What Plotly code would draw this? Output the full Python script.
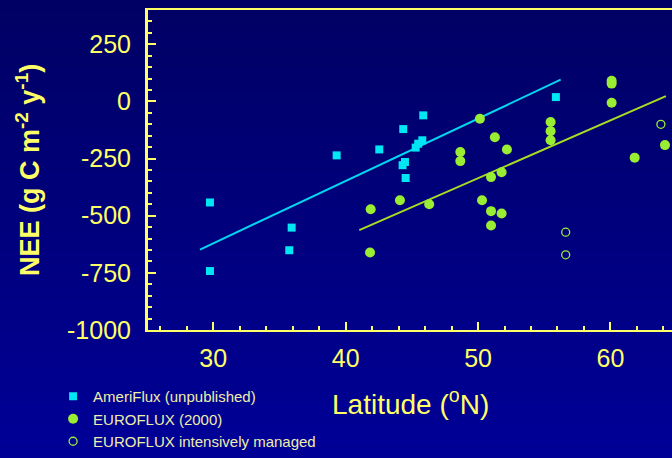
import plotly.graph_objects as go

# ---- data ----
ameri_lat = [29.75, 29.75, 35.92, 35.74, 39.32, 42.54, 44.35, 45.86, 45.79, 45.48, 45.29, 44.48, 44.30, 44.53, 55.88]
ameri_nee = [-442, -742, -552, -651, -236, -210, -121, -61, -170, -185, -202, -265, -279, -335, 19]

euro_lat = [50.14, 51.27, 52.18, 48.66, 48.66, 55.48, 55.48, 55.48, 60.09, 60.09, 60.09, 61.83, 64.12,
            50.98, 51.78, 41.89, 44.10, 46.31, 50.30, 50.98, 51.78, 50.98, 41.84]
euro_nee = [-76, -157, -210, -221, -261, -90, -130, -170, 90, 78, -6, -246, -191,
            -331, -310, -472, -432, -450, -432, -480, -490, -543, -661]

managed_lat = [56.62, 56.62, 63.81]
managed_nee = [-572, -671, -100]

ameri_fit_lat = [29.0, 56.24]
ameri_fit_nee = [-648, 95]
euro_fit_lat = [41.03, 64.19]
euro_fit_nee = [-563, 23]

x_ticks = [30, 40, 50, 60]
y_ticks = [250, 0, -250, -500, -750, -1000]

# ---- style ----
YEL = "#ffff66"
CYAN = "#00e6f2"
GREEN = "#99ee33"
FONT = "Liberation Sans, Arial, sans-serif"

W, H = 672, 458
ML, MR, MT, MB = 148, 0, 10, 128
PW, PH = W - ML - MR, H - MT - MB

fig = go.Figure()

fig.add_trace(go.Scatter(x=ameri_fit_lat, y=ameri_fit_nee, mode="lines",
                         line=dict(color="#00d8f0", width=2), showlegend=False, hoverinfo="skip"))
fig.add_trace(go.Scatter(x=euro_fit_lat, y=euro_fit_nee, mode="lines",
                         line=dict(color="#aadd22", width=2), showlegend=False, hoverinfo="skip"))

fig.add_trace(go.Scatter(x=ameri_lat, y=ameri_nee, mode="markers", name="AmeriFlux (unpublished)",
                         marker=dict(symbol="square", size=8, color=CYAN)))
fig.add_trace(go.Scatter(x=euro_lat, y=euro_nee, mode="markers", name="EUROFLUX (2000)",
                         marker=dict(symbol="circle", size=10, color=GREEN)))
fig.add_trace(go.Scatter(x=managed_lat, y=managed_nee, mode="markers", name="EUROFLUX intensively managed",
                         marker=dict(symbol="circle-open", size=8, color=GREEN, line=dict(width=1.3, color=GREEN))))

# gradient background bands
shapes = []
n = 40
x0p = -ML / PW
x1p = 1 + MR / PW
for i in range(n):
    f0 = i / n
    f1 = (i + 1) / n
    t = (f0 + f1) / 2
    b = int(100 + (152 - 100) * t)
    ya = 1 + MT / PH - f0 * H / PH
    yb = 1 + MT / PH - f1 * H / PH
    shapes.append(dict(type="rect", xref="paper", yref="paper", x0=x0p, x1=x1p, y0=yb, y1=ya,
                       fillcolor=f"rgb(0,0,{b})", line=dict(width=0), layer="below"))

fig.update_layout(
    width=W, height=H,
    margin=dict(l=ML, r=MR, t=MT, b=MB, autoexpand=False),
    paper_bgcolor="#00007a",
    plot_bgcolor="rgba(0,0,0,0)",
    shapes=shapes,
    font=dict(family=FONT, color=YEL),
    showlegend=True,
    legend=dict(xref="container", yref="container", x=0.079, y=1 - 380 / H,
                xanchor="left", yanchor="top", bgcolor="rgba(0,0,0,0)",
                font=dict(family=FONT, size=15, color="#eeeeaa"),
                tracegroupgap=0, itemsizing="trace"),
    xaxis=dict(range=[25.07, 64.65], showgrid=False, zeroline=False, automargin=False,
               showline=True, linecolor=YEL, linewidth=2, mirror=True,
               tickmode="array", tickvals=x_ticks, ticktext=[str(v) for v in x_ticks],
               ticks="inside", ticklen=8, tickwidth=2, tickcolor=YEL,
               minor=dict(dtick=2, tick0=0, ticks="inside", ticklen=4, tickwidth=2, tickcolor=YEL),
               tickfont=dict(family=FONT, size=25, color=YEL), ticklabelstandoff=5),
    yaxis=dict(range=[-1000, 400], showgrid=False, zeroline=False, automargin=False,
               showline=True, linecolor=YEL, linewidth=3, mirror=False,
               tickmode="array", tickvals=y_ticks, ticktext=[str(v) for v in y_ticks],
               ticks="inside", ticklen=8, tickwidth=2, tickcolor=YEL,
               minor=dict(dtick=50, tick0=0, ticks="inside", ticklen=4, tickwidth=2, tickcolor=YEL),
               tickfont=dict(family=FONT, size=25, color=YEL), ticklabelstandoff=9),
)

fig.add_annotation(xref="paper", yref="paper", x=0.5, y=-(402 - MT - PH) / PH,
                   text="Latitude (<sup>o</sup>N)", showarrow=False, yanchor="middle",
                   font=dict(family=FONT, size=28, color=YEL))
fig.add_annotation(xref="paper", yref="paper", x=(28 - ML) / PW, y=0.5,
                   text="<b>NEE (g C m<sup>-2</sup> y<sup>-1</sup>)</b>", showarrow=False,
                   textangle=-90, xanchor="center", yanchor="middle",
                   font=dict(family=FONT, size=27, color=YEL))

fig.write_html("out.html", config={"displayModeBar": False},
               post_script="document.body.style.margin='0';document.body.style.background='#000066';")
